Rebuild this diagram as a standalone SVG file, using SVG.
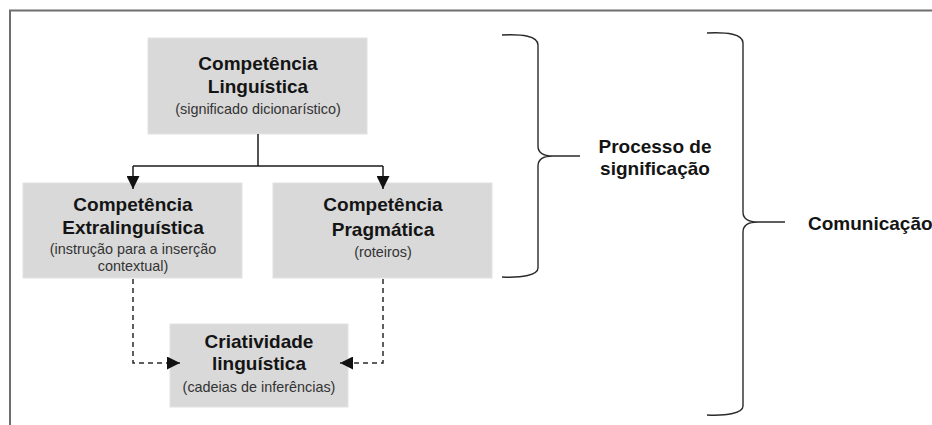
<svg xmlns="http://www.w3.org/2000/svg" width="932" height="425" viewBox="0 0 932 425">
  <style>
    .box { fill: #d9d9d9; stroke: #e2e2e2; stroke-width: 1; }
    .t { font-family: "Liberation Sans", Arial, sans-serif; font-weight: bold; font-size: 19px; fill: #141414; text-anchor: middle; }
    .s { font-family: "Liberation Sans", Arial, sans-serif; font-size: 14.4px; fill: #333333; text-anchor: middle; }
    .lbl { font-family: "Liberation Sans", Arial, sans-serif; font-weight: bold; font-size: 19px; fill: #141414; }
    .solid { fill: none; stroke: #1a1a1a; stroke-width: 1.5; }
    .dash { fill: none; stroke: #2a2a2a; stroke-width: 1.5; stroke-dasharray: 5 4; }
    .brace { fill: none; stroke: #2a2a2a; stroke-width: 1.4; }
    .frame { fill: none; stroke: #6e6e6e; stroke-width: 2; }
  </style>
  <defs>
    <marker id="ah" viewBox="0 0 10 10" refX="10" refY="5" markerWidth="9" markerHeight="9" markerUnits="userSpaceOnUse" orient="auto">
      <path d="M0,0 L10,5 L0,10 Z" fill="#111111"/>
    </marker>
    <marker id="ahL" viewBox="0 0 10 10" refX="10" refY="5" markerWidth="13" markerHeight="13" markerUnits="userSpaceOnUse" orient="auto">
      <path d="M0,0 L10,5 L0,10 Z" fill="#111111"/>
    </marker>
  </defs>

  <rect x="0" y="0" width="932" height="425" fill="#ffffff"/>
  <path class="frame" d="M10,425 L10,10.5 L932,10.5"/>

  <g id="node-linguistica">
    <rect class="box" x="148" y="38" width="219" height="96"/>
    <text class="t" x="258" y="70">Competência</text>
    <text class="t" x="258" y="93">Linguística</text>
    <text class="s" x="258" y="114">(significado dicionarístico)</text>
  </g>

  <g id="node-extralinguistica">
    <rect class="box" x="23" y="183" width="219" height="95"/>
    <text class="t" x="133" y="211">Competência</text>
    <text class="t" x="133" y="234">Extralinguística</text>
    <text class="s" x="133" y="254">(instrução para a inserção</text>
    <text class="s" x="133" y="271">contextual)</text>
  </g>

  <g id="node-pragmatica">
    <rect class="box" x="273" y="183" width="219" height="95"/>
    <text class="t" x="383" y="211">Competência</text>
    <text class="t" x="383" y="236">Pragmática</text>
    <text class="s" x="383" y="257">(roteiros)</text>
  </g>

  <g id="node-criatividade">
    <rect class="box" x="170" y="324" width="178" height="83"/>
    <text class="t" x="259" y="348">Criatividade</text>
    <text class="t" x="259" y="370">linguística</text>
    <text class="s" x="259" y="392">(cadeias de inferências)</text>
  </g>

  <g id="connectors">
    <path class="solid" d="M258,134 L258,166"/>
    <path class="solid" d="M133,166 L383,166"/>
    <path class="solid" d="M133,166 L133,189" marker-end="url(#ahL)"/>
    <path class="solid" d="M383,166 L383,189" marker-end="url(#ahL)"/>
    <path class="dash" d="M133,279 L133,363 L180,363" marker-end="url(#ahL)"/>
    <path class="dash" d="M383,279 L383,363 L340,363" marker-end="url(#ahL)"/>
  </g>

  <g id="brace-processo">
    <path class="brace" d="M502,35 C522,34 538,36 538,45 L538,146 C538,153 543,156 553,156 L580,156 M553,156 C543,156 538,159 538,166 L538,268 C538,275 522,278 502,277"/>
    <text class="lbl" x="655" y="153" text-anchor="middle">Processo de</text>
    <text class="lbl" x="655" y="175" text-anchor="middle">significação</text>
  </g>

  <g id="brace-comunicacao">
    <path class="brace" d="M707,33 C727,32 743,34 743,43 L743,212 C743,219 748,222 758,222 L785,222 M758,222 C748,222 743,225 743,232 L743,406 C743,413 727,416 707,415"/>
    <text class="lbl" x="808" y="230">Comunicação</text>
  </g>
</svg>
